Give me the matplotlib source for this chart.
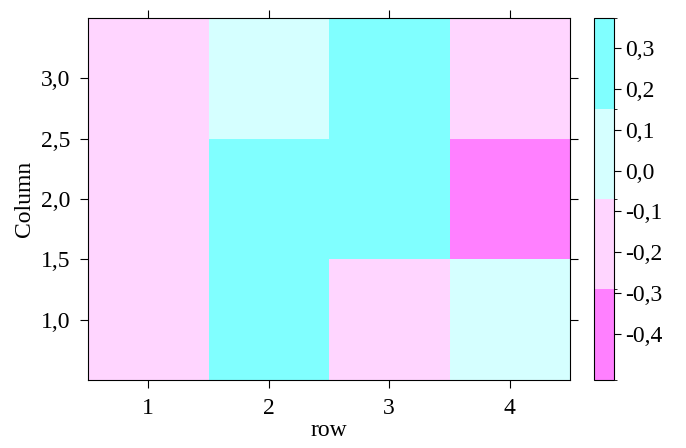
import numpy as np
import matplotlib
matplotlib.use("Agg")
import matplotlib.pyplot as plt
from matplotlib.colors import ListedColormap, BoundaryNorm

plt.rcParams["font.family"] = ["Liberation Serif", "DejaVu Serif"]

# 4 rows x 3 columns, values
rows = [1, 2, 3, 4]
columns = [1, 2, 3]
values = [
    [-0.18, -0.12, -0.21],
    [0.25, 0.32, 0.05],
    [-0.15, 0.20, 0.28],
    [0.02, -0.46, -0.25],
]

level_colors = ["#FF80FF", "#FFD5FF", "#D5FFFF", "#80FFFF"]
breaks = [-0.513, -0.291, -0.069, 0.152, 0.374]
cbar_ticks = [-0.4, -0.3, -0.2, -0.1, 0.0, 0.1, 0.2, 0.3]

z = np.array(values).T  # shape (columns, rows)
cmap = ListedColormap(level_colors)
norm = BoundaryNorm(breaks, cmap.N)

fig = plt.figure(figsize=(6.86, 4.48), dpi=100)
W, H = 686, 448
ax = fig.add_axes([88 / W, 1 - 380 / H, (570 - 88) / W, (380 - 18) / H])
cax = fig.add_axes([594 / W, 1 - 380 / H, (614 - 594) / W, (380 - 18) / H])

x_edges = np.arange(len(rows) + 1) + 0.5
y_edges = np.arange(len(columns) + 1) + 0.5
mesh = ax.pcolormesh(x_edges, y_edges, z, cmap=cmap, norm=norm)

ax.set_xlim(0.5, 4.5)
ax.set_ylim(0.5, 3.5)
ax.set_xticks(rows)
ax.set_xticklabels([str(r) for r in rows])
yt = [1.0, 1.5, 2.0, 2.5, 3.0]
ax.set_yticks(yt)
ax.set_yticklabels([f"{v:.1f}".replace(".", ",") for v in yt])
ax.tick_params(direction="out", length=6, width=0.8, labelsize=17,
               top=True, right=True, labeltop=False, labelright=False, pad=7)
ax.set_xlabel("row", fontsize=17, labelpad=1)
ax.set_ylabel("Column", fontsize=17, labelpad=4)
for s in ax.spines.values():
    s.set_linewidth(0.8)

cb = fig.colorbar(mesh, cax=cax, boundaries=breaks, ticks=cbar_ticks,
                  spacing="proportional")
cb.ax.set_yticklabels([f"{v:.1f}".replace(".", ",") for v in cbar_ticks])
cb.ax.tick_params(direction="out", length=5, width=0.8, labelsize=17, pad=3)
cb.outline.set_linewidth(0.8)

fig.savefig("out.png", dpi=100)
